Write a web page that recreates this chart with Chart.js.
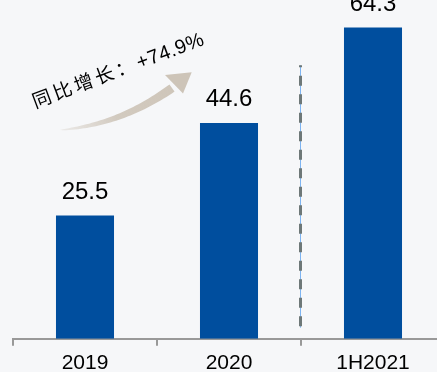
<!DOCTYPE html>
<html>
<head>
<meta charset="utf-8">
<script src="https://cdn.jsdelivr.net/npm/chart.js@4/dist/chart.umd.min.js"></script>
<style>
  html, body { margin: 0; padding: 0; background: #f6f7f9; overflow: hidden; }
  #wrap { width: 437px; height: 372px; overflow: hidden; position: relative; }
  #chart { position: absolute; left: 0; top: 0; }
</style>
</head>
<body>
<div id="wrap"><canvas id="chart" width="458" height="381"></canvas></div>
<script>
var categories = ['2019', '2020', '1H2021'];
var revenue = [25.5, 44.6, 64.3];
var growthText = ['同比增长：', '+74.9%'];
var dividerRange = [2.3, 56.5];   // vertical extent of the divider, in axis units
var yMax = 70;

var latin = "'Liberation Sans', Arial, sans-serif";
var cjk = "'Noto Sans CJK SC', sans-serif";

// numbers above each bar
var valueLabels = {
    id: 'valueLabels',
    afterDatasetsDraw: function(chart) {
        var ctx = chart.ctx;
        var meta = chart.getDatasetMeta(0);
        ctx.save();
        ctx.font = '24px ' + latin;
        ctx.fillStyle = '#000';
        ctx.textAlign = 'center';
        ctx.textBaseline = 'alphabetic';
        meta.data.forEach(function(bar, i) {
            ctx.fillText(revenue[i].toFixed(1), bar.x, bar.y - 16.5);
        });
        ctx.restore();
    }
};

// dashed divider between full years and the half year
var divider = {
    id: 'divider',
    afterDatasetsDraw: function(chart) {
        var ctx = chart.ctx;
        var xs = chart.scales.x, ys = chart.scales.y;
        var x = Math.round((xs.getPixelForValue(1) + xs.getPixelForValue(2)) / 2) - 0.5;
        var top = ys.getPixelForValue(dividerRange[1]);
        var bottom = ys.getPixelForValue(dividerRange[0]);
        ctx.save();
        ctx.strokeStyle = '#7db4f2';
        ctx.lineWidth = 1;
        ctx.beginPath();
        ctx.moveTo(x, top);
        ctx.lineTo(x, bottom);
        ctx.stroke();
        ctx.strokeStyle = '#6e7878';
        ctx.lineWidth = 3;
        ctx.setLineDash([10, 8.5]);
        ctx.lineDashOffset = 8;
        ctx.beginPath();
        ctx.moveTo(x, top);
        ctx.lineTo(x, bottom);
        ctx.stroke();
        ctx.restore();
    }
};

// curved growth arrow with its caption
var growthArrow = {
    id: 'growthArrow',
    afterDraw: function(chart) {
        var ctx = chart.ctx;
        var a = chart.chartArea;
        var ox = a.left, oy = a.top;
        var p0 = [ox + 47, oy + 130], c = [ox + 107, oy + 125], p2 = [ox + 159, oy + 88];
        var tip = [ox + 178.7, oy + 72.3];
        var w1 = [ox + 152, oy + 75], w2 = [ox + 170, oy + 93.5];

        function pt(t) {
            var u = 1 - t;
            return [u*u*p0[0] + 2*u*t*c[0] + t*t*p2[0], u*u*p0[1] + 2*u*t*c[1] + t*t*p2[1]];
        }
        function tan(t) {
            var dx = 2*(1-t)*(c[0]-p0[0]) + 2*t*(p2[0]-c[0]);
            var dy = 2*(1-t)*(c[1]-p0[1]) + 2*t*(p2[1]-c[1]);
            var l = Math.sqrt(dx*dx + dy*dy);
            return [dx/l, dy/l];
        }
        var upper = [], lower = [];
        var n = 40;
        for (var i = 0; i <= n; i++) {
            var t = i / n;
            var p = pt(t), d = tan(t);
            var hw = 4.4 * Math.pow(t, 0.6);
            upper.push([p[0] + d[1]*hw, p[1] - d[0]*hw]);
            lower.push([p[0] - d[1]*hw, p[1] + d[0]*hw]);
        }
        var grad = ctx.createLinearGradient(p0[0], p0[1], tip[0], tip[1]);
        grad.addColorStop(0, 'rgba(205,196,184,0.25)');
        grad.addColorStop(0.4, 'rgba(205,196,184,0.9)');
        grad.addColorStop(1, 'rgba(205,196,184,1)');
        ctx.save();
        ctx.fillStyle = grad;
        ctx.beginPath();
        ctx.moveTo(upper[0][0], upper[0][1]);
        upper.forEach(function(q) { ctx.lineTo(q[0], q[1]); });
        for (var j = lower.length - 1; j >= 0; j--) ctx.lineTo(lower[j][0], lower[j][1]);
        ctx.closePath();
        ctx.fill();
        ctx.fillStyle = '#cdc4b8';
        ctx.beginPath();
        ctx.moveTo(tip[0], tip[1]);
        ctx.lineTo(w1[0], w1[1]);
        ctx.lineTo(w2[0], w2[1]);
        ctx.closePath();
        ctx.fill();

        // caption along the arrow
        ctx.translate(ox + 23, oy + 110);
        ctx.rotate(-20.5 * Math.PI / 180);
        ctx.fillStyle = '#000';
        ctx.textBaseline = 'alphabetic';
        ctx.font = '19px ' + cjk;
        ctx.letterSpacing = '3.2px';
        ctx.fillText(growthText[0], 0, -2);
        var w = ctx.measureText(growthText[0]).width;
        ctx.letterSpacing = '0.4px';
        ctx.font = '20px ' + latin;
        ctx.fillText(growthText[1], w, -2);
        ctx.restore();
    }
};

var ctx = document.getElementById('chart').getContext('2d');
var chart = new Chart(ctx, {
    type: 'bar',
    data: {
        labels: categories,
        datasets: [{
            data: revenue,
            backgroundColor: '#004e9e',
            barPercentage: 1,
            categoryPercentage: 0.403
        }]
    },
    options: {
        responsive: false,
        animation: false,
        layout: { padding: { left: 13, right: 13, top: 0, bottom: 0 } },
        plugins: {
            legend: { display: false },
            tooltip: { enabled: false }
        },
        scales: {
            x: {
                grid: { display: true, drawOnChartArea: false, drawTicks: true, tickLength: 7, color: '#999999', lineWidth: 2 },
                border: { display: true, color: '#999999', width: 2 },
                ticks: { color: '#000', font: { family: latin, size: 21 }, padding: 5 }
            },
            y: { display: false, min: 0, max: yMax }
        }
    },
    plugins: [divider, valueLabels, growthArrow]
});
</script>
</body>
</html>
